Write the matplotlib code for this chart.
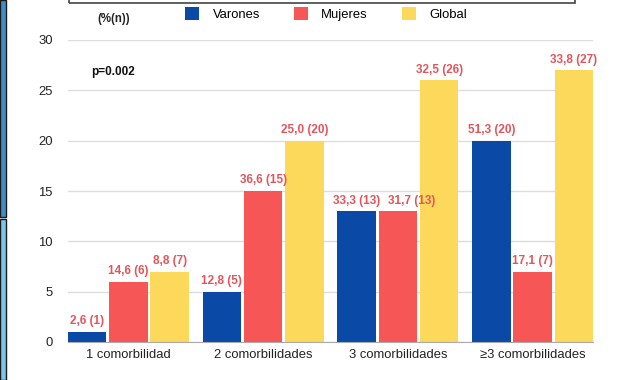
import numpy as np
import matplotlib.pyplot as plt
from matplotlib.patches import Rectangle, Patch

plt.rcParams['font.family'] = ['Liberation Sans', 'DejaVu Sans']

# categories and counts per group
categorias = ['1 comorbilidad', '2 comorbilidades', '3 comorbilidades', '≥3 comorbilidades']
varones = [1, 5, 13, 20]
mujeres = [6, 15, 13, 7]
global_ = [7, 20, 26, 27]
# percentage labels shown above each bar
pct_varones = ['2,6', '12,8', '33,3', '51,3']
pct_mujeres = ['14,6', '36,6', '31,7', '17,1']
pct_global = ['8,8', '25,0', '32,5', '33,8']

series = [
    ('Varones', varones, pct_varones, '#0b49a6'),
    ('Mujeres', mujeres, pct_mujeres, '#f75656'),
    ('Global', global_, pct_global, '#fcd95b'),
]

fig = plt.figure(figsize=(6.27, 3.80), dpi=100)
ax = fig.add_axes([68 / 627, 38 / 380, 525 / 627, 302 / 380])

x = np.arange(len(categorias))
step = 0.306
width = 0.287
for i, (name, vals, pcts, color) in enumerate(series):
    pos = x + (i - 1) * step
    ax.bar(pos, vals, width, color=color, zorder=3)
    for j, (px, v, p) in enumerate(zip(pos, vals, pcts)):
        # push the label right where two equal bars sit side by side
        nudge = 0.1 if (name == 'Mujeres' and mujeres[j] == varones[j]) else 0
        ax.text(px + nudge, v + 0.45, f'{p} ({v})', ha='center', va='bottom',
                fontsize=8.5, fontweight='bold', color='#e4555b', zorder=4)

ax.set_xlim(-0.448, 3.448)
ax.set_ylim(0, 30)
ax.set_yticks(range(0, 31, 5))
ax.set_xticks(x)
ax.set_xticklabels(categorias)
ax.tick_params(axis='both', length=0, labelsize=9.4, colors='#222222')
ax.tick_params(axis='y', pad=11)
ax.tick_params(axis='x', pad=5)
ax.grid(axis='y', color='#dddddd', linewidth=1.0, zorder=0)
for s in ['left', 'right', 'top']:
    ax.spines[s].set_visible(False)
ax.spines['bottom'].set_color('#aaaaaa')
ax.spines['bottom'].set_zorder(5)

ax.text(0.045, 0.895, 'p=0.002', transform=ax.transAxes, fontsize=8.5,
        fontweight='bold', color='#111111', va='center', ha='left')
fig.text(97 / 627, 1 - 19 / 380, '(%(n))', fontsize=8.3, fontweight='bold',
         color='#222222', va='center', ha='left')

handles = [Patch(facecolor=c, label=n) for n, _, _, c in series]
fig.legend(handles=handles, loc='center', bbox_to_anchor=(0.52, 1 - 14 / 380),
           ncol=3, frameon=False, fontsize=9.4, handlelength=1.1, handleheight=1.1,
           handletextpad=1.0, columnspacing=2.6)

# frame pieces around the chart
fig.add_artist(Rectangle((69 / 627, 1 - 2.5 / 380), 506 / 627, 10 / 380,
                         transform=fig.transFigure, fill=False,
                         edgecolor='#444444', linewidth=1.2))
fig.patches.append(Rectangle((0, 1 - 217 / 380), 6 / 627, 217 / 380,
                             transform=fig.transFigure, facecolor='#3f8fc6',
                             edgecolor='#1a1a1a', linewidth=1.0))
fig.patches.append(Rectangle((0, 0), 6 / 627, 1 - 219 / 380,
                             transform=fig.transFigure, facecolor='#7cc6ec',
                             edgecolor='#1a1a1a', linewidth=1.0))

fig.savefig('out.png', dpi=100)
